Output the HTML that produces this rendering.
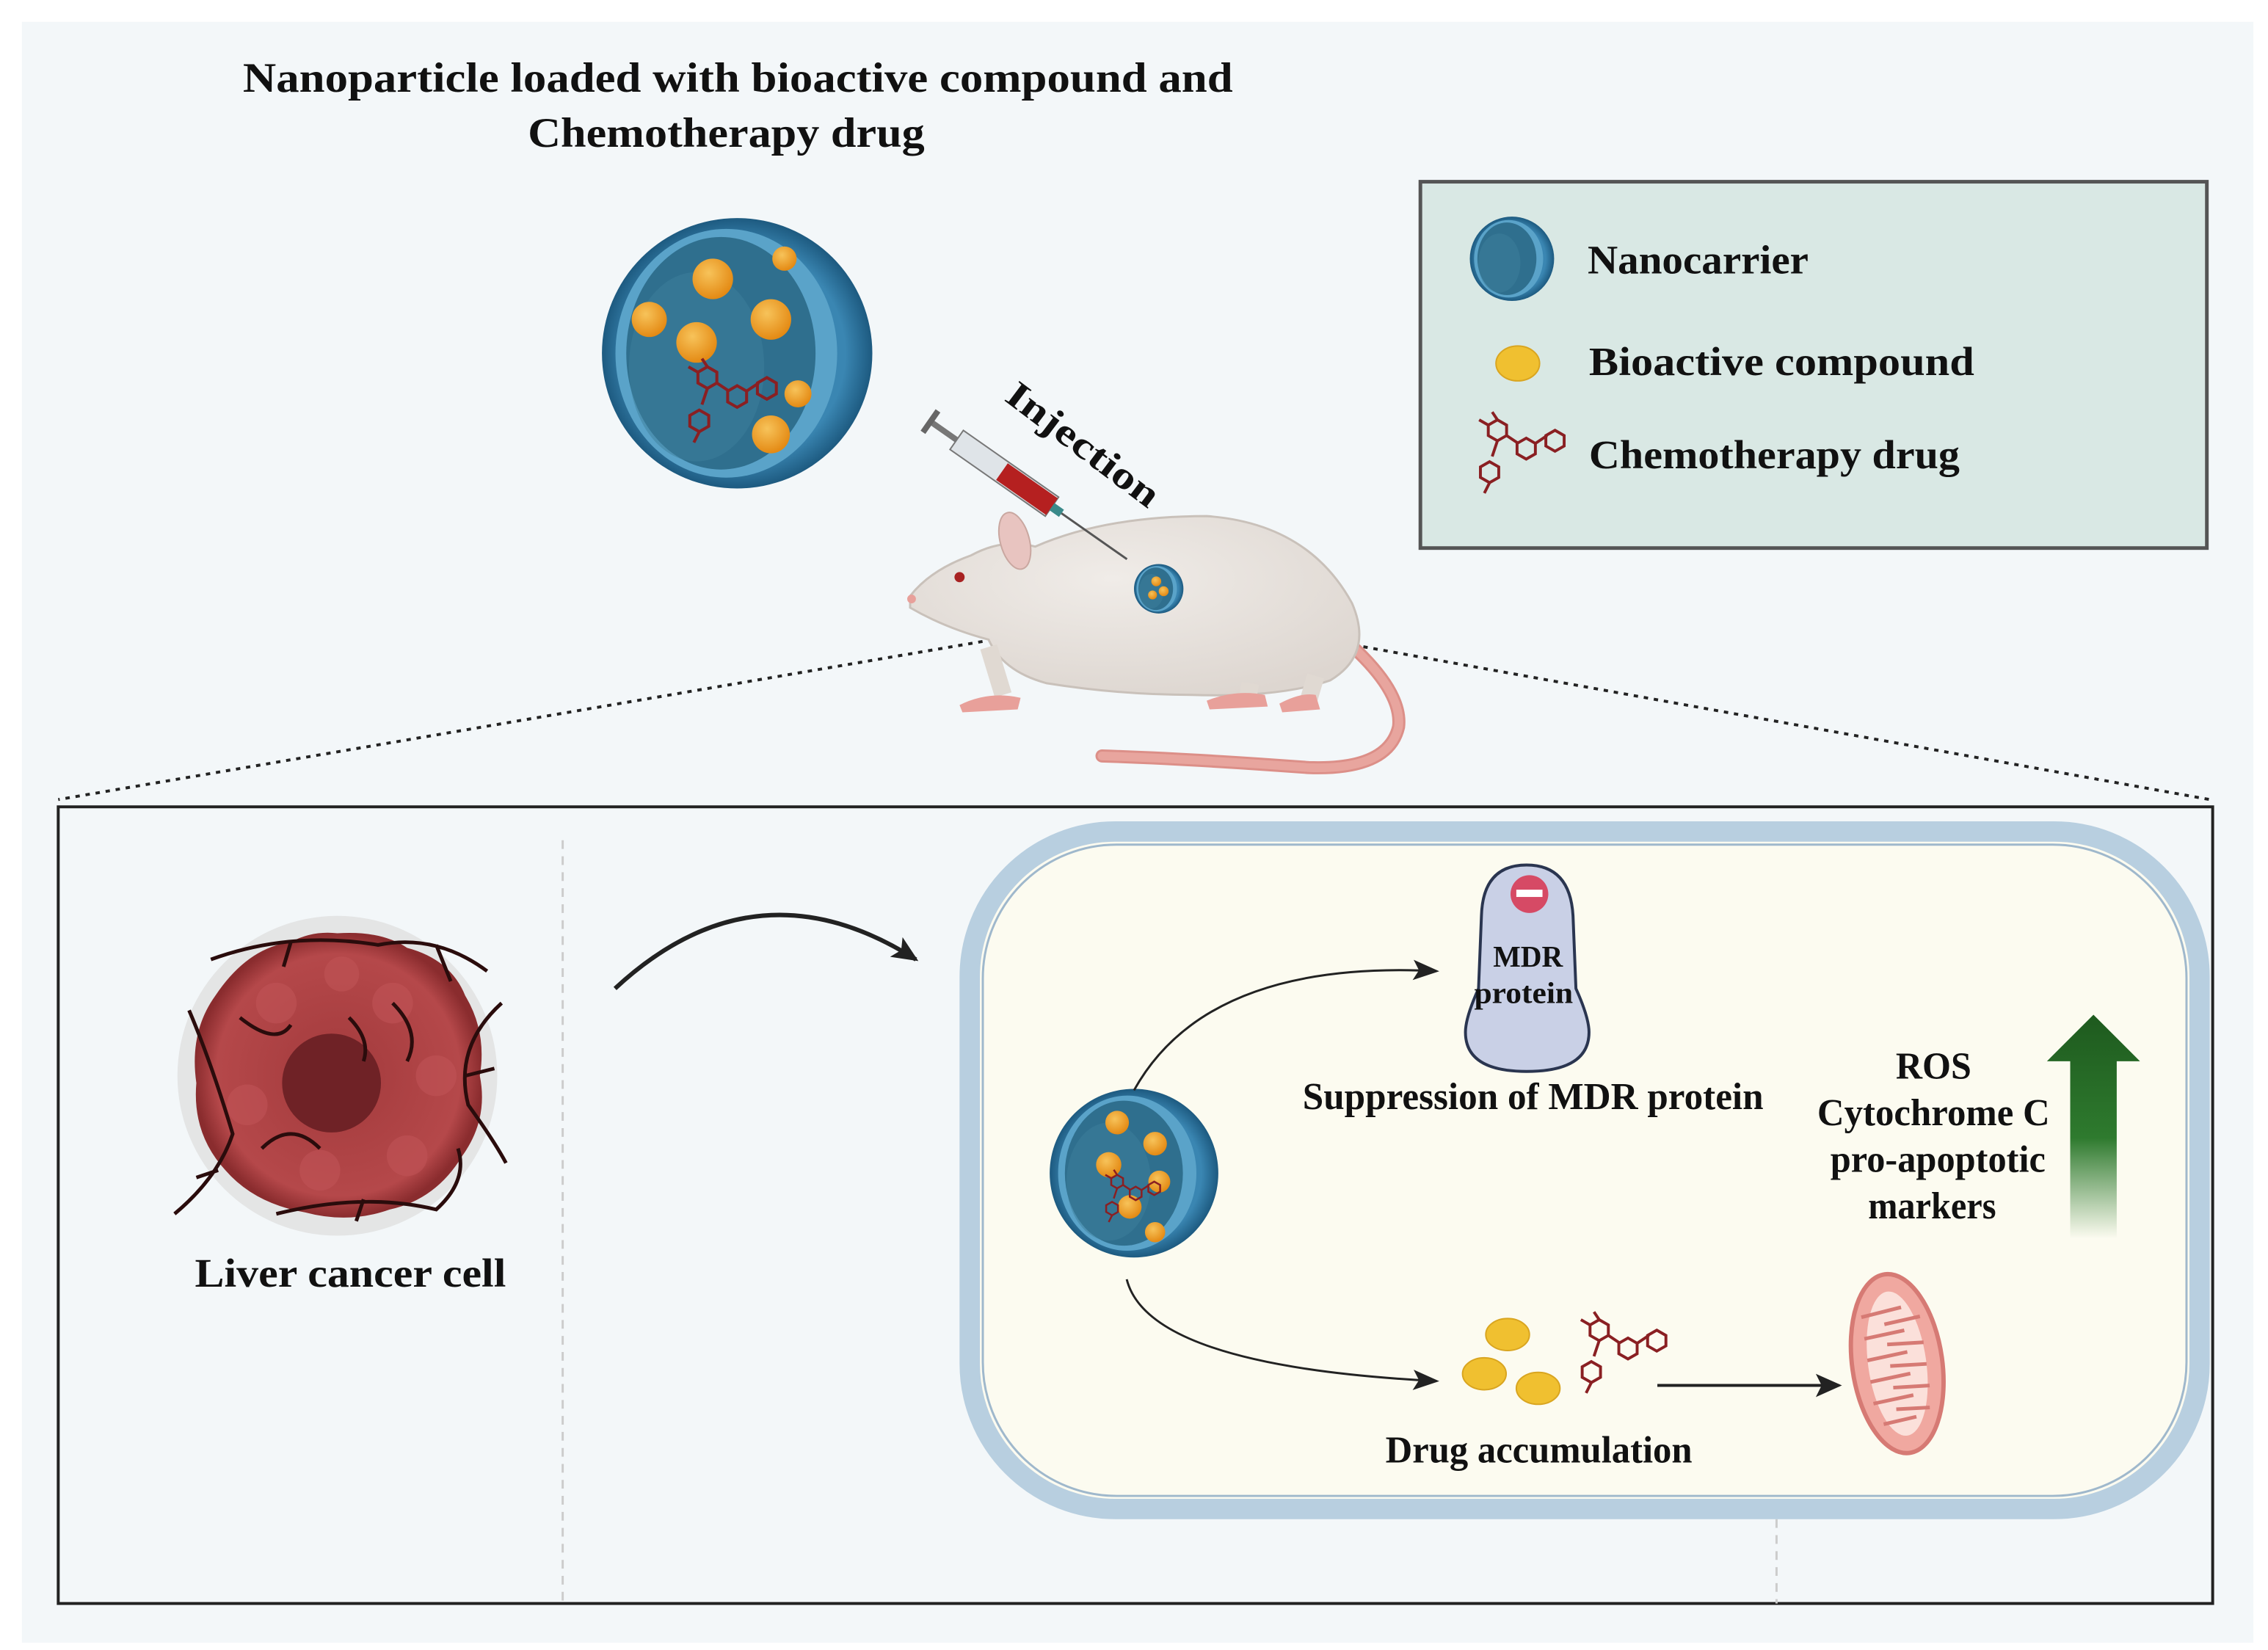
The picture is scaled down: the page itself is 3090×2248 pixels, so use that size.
<!DOCTYPE html>
<html><head><meta charset="utf-8"><style>
html,body{margin:0;padding:0;background:#fff;}
svg{display:block;}
text{font-family:"Liberation Serif",serif;fill:#111;font-weight:bold;}
</style></head><body>
<svg width="3090" height="2248" viewBox="0 0 1560 1135" xmlns="http://www.w3.org/2000/svg">
<defs>
  <radialGradient id="np" cx="50%" cy="50%" r="50%">
    <stop offset="0.8" stop-color="#3a86b2"/><stop offset="1" stop-color="#1d5a80"/>
  </radialGradient>
  <radialGradient id="orb" cx="40%" cy="35%" r="65%">
    <stop offset="0" stop-color="#f7c35a"/><stop offset="1" stop-color="#e48a14"/>
  </radialGradient>
  <radialGradient id="cc" cx="50%" cy="50%" r="50%">
    <stop offset="0" stop-color="#a23a3c"/><stop offset="0.85" stop-color="#b5484a"/><stop offset="1" stop-color="#8a2c2e"/>
  </radialGradient>
  <radialGradient id="body" cx="45%" cy="35%" r="70%">
    <stop offset="0" stop-color="#f0ece8"/><stop offset="1" stop-color="#ddd6d0"/>
  </radialGradient>
  <linearGradient id="ga" x1="0" y1="0" x2="0" y2="1">
    <stop offset="0" stop-color="#1e5a1e"/><stop offset="0.55" stop-color="#2e7a2e"/><stop offset="1" stop-color="#2e7a2e" stop-opacity="0"/>
  </linearGradient>
  <marker id="ah" markerWidth="18" markerHeight="14" refX="16" refY="7" orient="auto" markerUnits="userSpaceOnUse">
    <path d="M0,0 L18,7 L0,14 L4,7 z" fill="#222"/>
  </marker>
  <marker id="ah2" markerWidth="18" markerHeight="16" refX="16" refY="8" orient="auto" markerUnits="userSpaceOnUse">
    <path d="M0,0 L18,8 L0,16 L4,8 z" fill="#222"/>
  </marker>
  <g id="mol" fill="none" stroke="#8a1f22" stroke-width="2.2">
    <polygon points="0,-8 7,-4 7,4 0,8 -7,4 -7,-4"/>
    <path d="M7,4 L16,10"/>
    <polygon points="22,6 29,10 29,18 22,22 15,18 15,10"/>
    <path d="M29,10 L38,4"/>
    <polygon points="44,0 51,4 51,12 44,16 37,12 37,4"/>
    <path d="M0,8 L-4,20"/>
    <polygon points="-6,24 1,28 1,36 -6,40 -13,36 -13,28"/>
    <path d="M-6,40 L-10,48 M0,-8 L-4,-14 M-7,-4 L-14,-8"/>
  </g>
  <g id="nano">
    <circle r="100" fill="url(#np)"/>
    <ellipse cx="-8" cy="0" rx="82" ry="92" fill="#5aa3c9"/>
    <ellipse cx="-12" cy="0" rx="70" ry="86" fill="#2f6f8e"/>
    <ellipse cx="-30" cy="10" rx="50" ry="70" fill="#3d7f9c" opacity="0.5"/>
  </g>
</defs>

<rect x="0" y="0" width="1560" height="1135" fill="#fff"/>
<rect x="15" y="15" width="1535" height="1115" fill="#f3f7f9"/>

<text x="167" y="63" font-size="29" textLength="681" lengthAdjust="spacingAndGlyphs">Nanoparticle loaded with bioactive compound and</text>
<text x="363" y="101" font-size="29" textLength="273" lengthAdjust="spacingAndGlyphs">Chemotherapy drug</text>

<g transform="translate(507,243) scale(0.93)">
  <use href="#nano"/>
  <circle cx="-18" cy="-55" r="15" fill="url(#orb)"/>
  <circle cx="25" cy="-25" r="15" fill="url(#orb)"/>
  <circle cx="-30" cy="-8" r="15" fill="url(#orb)"/>
  <circle cx="-65" cy="-25" r="13" fill="url(#orb)"/>
  <circle cx="45" cy="30" r="10" fill="url(#orb)"/>
  <circle cx="25" cy="60" r="14" fill="url(#orb)"/>
  <circle cx="35" cy="-70" r="9" fill="url(#orb)"/>
  <use href="#mol" x="-22" y="18"/>
</g>

<rect x="977" y="125" width="541" height="252" fill="#d9e8e4" stroke="#555" stroke-width="2.5"/>
<g transform="translate(1040,178) scale(0.29)"><use href="#nano"/></g>
<text x="1092" y="188" font-size="28" textLength="152" lengthAdjust="spacingAndGlyphs">Nanocarrier</text>
<ellipse cx="1044" cy="250" rx="15" ry="12" fill="#f0c030" stroke="#d9a520"/>
<text x="1093" y="258" font-size="28" textLength="265" lengthAdjust="spacingAndGlyphs">Bioactive compound</text>
<g transform="translate(1030,296) scale(0.9)"><use href="#mol"/></g>
<text x="1093" y="322" font-size="28" textLength="255" lengthAdjust="spacingAndGlyphs">Chemotherapy drug</text>

<path d="M800,420 L40,550" stroke="#222" stroke-width="2" stroke-dasharray="3,4" fill="none"/>
<path d="M800,420 L1520,550" stroke="#222" stroke-width="2" stroke-dasharray="3,4" fill="none"/>

<!-- mouse -->
<g>
  <path d="M925,440 Q965,475 962,500 Q955,530 900,528 Q820,522 758,520" stroke="#dc8f88" stroke-width="9" fill="none" stroke-linecap="round"/>
  <path d="M925,440 Q965,475 962,500 Q955,530 900,528 Q820,522 758,520" stroke="#e8a59e" stroke-width="6" fill="none" stroke-linecap="round"/>
  <path d="M626,410 Q640,392 668,382 Q690,370 712,376 Q760,355 830,355 Q900,360 930,415 Q945,450 915,468 Q880,480 820,478 Q770,478 720,470 Q690,462 680,440 Q650,432 626,418 z" fill="url(#body)" stroke="#c9c1ba" stroke-width="1.5"/>
  <ellipse cx="698" cy="372" rx="10" ry="20" transform="rotate(-15 698 372)" fill="#e8c4c0" stroke="#c9a7a0"/>
  <circle cx="660" cy="397" r="3.5" fill="#a82222"/>
  <circle cx="627" cy="412" r="3" fill="#e8a09a"/>
  <path d="M680,445 L690,478 M860,470 L858,482 M905,465 L900,482" stroke="#e0d9d2" stroke-width="12" fill="none"/>
  <path d="M660,485 Q680,475 702,480 L700,488 L662,490 z M830,482 Q850,474 870,478 L872,486 L832,488 z M880,484 Q895,476 905,478 L908,488 L882,490 z" fill="#e8a09a"/>
</g>
<g transform="translate(640,290) rotate(35)">
  <rect x="0" y="-2" width="22" height="4" fill="#777"/>
  <rect x="-2" y="-9" width="4" height="18" fill="#666"/>
  <rect x="22" y="-8" width="80" height="16" fill="#dfe4e8" stroke="#777"/>
  <rect x="60" y="-7" width="42" height="14" fill="#b52020"/>
  <rect x="102" y="-3" width="8" height="6" fill="#3a8a8a"/>
  <line x1="110" y1="0" x2="165" y2="0" stroke="#555" stroke-width="1.5"/>
</g>
<text x="0" y="0" font-size="26" transform="translate(690,275) rotate(37)" textLength="125" lengthAdjust="spacingAndGlyphs">Injection</text>
<g transform="translate(797,405) scale(0.17)">
  <use href="#nano"/>
  <circle cx="-10" cy="-30" r="20" fill="url(#orb)"/><circle cx="20" cy="10" r="20" fill="url(#orb)"/><circle cx="-25" cy="25" r="18" fill="url(#orb)"/>
</g>

<rect x="40" y="555" width="1482" height="548" fill="#f3f7f9" stroke="#222" stroke-width="2"/>
<line x1="387" y1="578" x2="387" y2="1103" stroke="#ccc" stroke-width="1.5" stroke-dasharray="6,5"/>
<line x1="1222" y1="1045" x2="1222" y2="1103" stroke="#ccc" stroke-width="1.5" stroke-dasharray="6,5"/>

<!-- cancer cell -->
<circle cx="232" cy="740" r="110" fill="#ddd" opacity="0.7"/>
<path d="M232,642 Q262,640 280,652 Q310,660 320,685 Q335,710 330,740 Q336,770 318,795 Q300,825 268,832 Q240,842 210,834 Q175,828 155,805 Q132,780 135,745 Q130,710 148,685 Q170,652 200,648 Q215,640 232,642 z" fill="url(#cc)"/>
<g fill="#c05456" opacity="0.6">
  <circle cx="190" cy="690" r="14"/><circle cx="270" cy="690" r="14"/><circle cx="300" cy="740" r="14"/><circle cx="170" cy="760" r="14"/><circle cx="220" cy="805" r="14"/><circle cx="280" cy="795" r="14"/><circle cx="235" cy="670" r="12"/>
</g>
<circle cx="228" cy="745" r="34" fill="#6f2226"/>
<g stroke="#2a0c0c" stroke-width="2.5" fill="none">
  <path d="M120,835 Q150,810 160,780 Q145,730 130,695 M150,805 L135,810"/>
  <path d="M145,660 Q200,640 260,650 Q300,642 335,668 M200,648 L195,665 M300,650 L310,675"/>
  <path d="M345,690 Q312,720 322,760 Q340,785 348,800 M320,740 L340,735"/>
  <path d="M190,835 Q250,820 300,832 Q322,812 315,790 M250,825 L245,840"/>
  <path d="M165,700 Q190,720 200,705 M270,690 Q290,710 280,730 M180,790 Q200,770 220,790 M240,700 Q255,715 250,730"/>
</g>
<text x="134" y="885" font-size="28" textLength="214" lengthAdjust="spacingAndGlyphs">Liver cancer cell</text>

<path d="M423,680 Q520,590 630,660" stroke="#222" stroke-width="3" fill="none" marker-end="url(#ah2)"/>

<rect x="667" y="572" width="846" height="466" rx="100" fill="#fcfbf0" stroke="#b8cfe0" stroke-width="14"/>
<rect x="676" y="581" width="828" height="448" rx="92" fill="none" stroke="#9fb8cc" stroke-width="1.5"/>

<g transform="translate(780,807) scale(0.58)">
  <use href="#nano"/>
  <circle cx="-20" cy="-60" r="14" fill="url(#orb)"/><circle cx="25" cy="-35" r="14" fill="url(#orb)"/>
  <circle cx="-30" cy="-10" r="15" fill="url(#orb)"/><circle cx="30" cy="10" r="13" fill="url(#orb)"/>
  <circle cx="-5" cy="40" r="14" fill="url(#orb)"/><circle cx="25" cy="70" r="12" fill="url(#orb)"/>
  <use href="#mol" x="-20" y="10"/>
</g>

<path d="M780,750 Q830,660 988,668" stroke="#222" stroke-width="1.5" fill="none" marker-end="url(#ah)"/>
<path d="M775,880 Q790,940 988,950" stroke="#222" stroke-width="1.5" fill="none" marker-end="url(#ah)"/>

<path d="M1050,595 Q1080,595 1082,630 L1084,680 Q1093,700 1093,710 Q1093,737 1050,737 Q1008,737 1008,710 Q1008,700 1017,680 L1019,630 Q1020,595 1050,595 z" fill="#c9d0e6" stroke="#2a3550" stroke-width="2"/>
<circle cx="1052" cy="615" r="13" fill="#d64a65"/>
<rect x="1043" y="612" width="18" height="5" fill="#fff"/>
<text x="1027" y="665" font-size="21" textLength="48" lengthAdjust="spacingAndGlyphs" font-weight="normal">MDR</text>
<text x="1014" y="690" font-size="21" textLength="68" lengthAdjust="spacingAndGlyphs" font-weight="normal">protein</text>
<text x="896" y="763" font-size="26" textLength="317" lengthAdjust="spacingAndGlyphs">Suppression of MDR protein</text>

<text x="1304" y="742" font-size="26" textLength="52" lengthAdjust="spacingAndGlyphs">ROS</text>
<text x="1250" y="774" font-size="26" textLength="160" lengthAdjust="spacingAndGlyphs">Cytochrome C</text>
<text x="1259" y="806" font-size="26" textLength="148" lengthAdjust="spacingAndGlyphs">pro-apoptotic</text>
<text x="1285" y="838" font-size="26" textLength="88" lengthAdjust="spacingAndGlyphs">markers</text>

<path d="M1424,730 L1408,730 L1440,698 L1472,730 L1456,730 L1456,852 L1424,852 z" fill="url(#ga)"/>

<ellipse cx="1037" cy="918" rx="15" ry="11" fill="#f0c030" stroke="#d9a520"/>
<ellipse cx="1021" cy="945" rx="15" ry="11" fill="#f0c030" stroke="#d9a520"/>
<ellipse cx="1058" cy="955" rx="15" ry="11" fill="#f0c030" stroke="#d9a520"/>
<g transform="translate(1100,915) scale(0.9)"><use href="#mol"/></g>
<path d="M1140,953 L1265,953" stroke="#222" stroke-width="2" fill="none" marker-end="url(#ah2)"/>
<text x="953" y="1006" font-size="26" textLength="211" lengthAdjust="spacingAndGlyphs">Drug accumulation</text>

<g transform="translate(1305,938) rotate(-8)">
  <ellipse rx="31" ry="62" fill="#f0a8a0" stroke="#d67a74" stroke-width="3"/>
  <ellipse rx="20" ry="50" fill="#fbe0da"/>
  <path d="M-20,-35 L8,-38 M-20,-20 L8,-22 M-20,-5 L8,-7 M-20,10 L8,8 M-20,25 L8,23 M-15,40 L8,38 M20,-30 L-5,-28 M20,-12 L-5,-14 M20,3 L-5,1 M20,18 L-5,16 M18,33 L-5,31" stroke="#d67a74" stroke-width="2.5"/>
</g>
</svg>
</body></html>
